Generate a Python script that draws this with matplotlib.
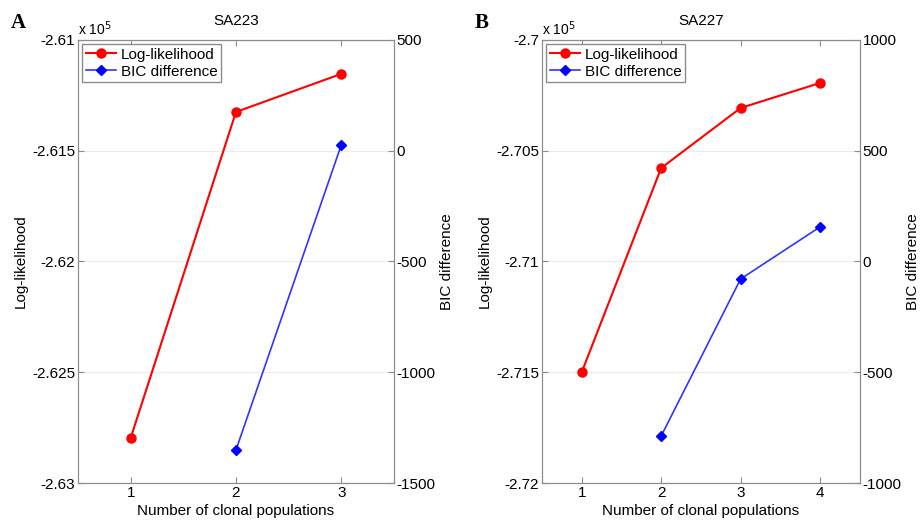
import matplotlib.pyplot as plt
from matplotlib.ticker import FuncFormatter

plt.rcParams['font.family'] = ['Liberation Sans', 'DejaVu Sans']
plt.rcParams['axes.unicode_minus'] = False

# Panel A - SA223
n_a = [1, 2, 3]
ll_a = [-262797, -261325, -261153]
bic_n_a = [2, 3]
bic_a = [-1351, 26]

# Panel B - SA227
n_b = [1, 2, 3, 4]
ll_b = [-271500, -270578, -270307, -270194]
bic_n_b = [2, 3, 4]
bic_b = [-788, -79, 156]

yt_a = [-2.63, -2.625, -2.62, -2.615, -2.61]
yt2_a = [-1500, -1000, -500, 0, 500]
yt_b = [-2.72, -2.715, -2.71, -2.705, -2.7]
yt2_b = [-1000, -500, 0, 500, 1000]

grey = '#8c8c8c'
fmt = FuncFormatter(lambda v, p: '%g' % round(v, 4))


def panel(rect, letter, title, n, ll, bn, bic, yt, yt2, nmax):
    ax = fig.add_axes(rect)
    ax2 = ax.twinx()
    for a in (ax, ax2):
        for s in a.spines.values():
            s.set_color(grey)
        a.tick_params(direction='in', colors='black', labelsize=11, length=4, pad=2)
    ax.tick_params(axis='both', color=grey, top=True)
    ax2.tick_params(axis='y', color=grey, pad=2)

    ax.set_ylim(yt[0], yt[-1])
    ax.set_yticks(yt)
    ax.yaxis.set_major_formatter(fmt)
    ax2.set_ylim(yt2[0], yt2[-1])
    ax2.set_yticks(yt2)
    ax.set_xlim(0.5, nmax + 0.5)
    ax.set_xticks(range(1, nmax + 1))
    ax.grid(axis='y', color='#ececec', lw=0.8)

    l1, = ax.plot(n, [v / 1e5 for v in ll], '-o', color='#ff0000', lw=1.5, ms=6.5)
    l2, = ax2.plot(bn, bic, '-D', color='#3333ff', lw=1.2, ms=5,
                   markerfacecolor='#0000ff', markeredgecolor='#0000ff')

    leg = ax2.legend([l1, l2], ['Log-likelihood', 'BIC difference'], loc='upper left',
                     fontsize=11, fancybox=False, framealpha=1, borderpad=0.25,
                     handlelength=2.0, handletextpad=0.3, labelspacing=0.2,
                     borderaxespad=0.25)
    leg.get_frame().set_edgecolor(grey)

    ax.set_xlabel('Number of clonal populations', fontsize=11, labelpad=3)
    ax.set_ylabel('Log-likelihood', fontsize=11, labelpad=3)
    ax2.set_ylabel('BIC difference', fontsize=11, labelpad=3)
    ax.set_title(title, fontsize=11, pad=11)
    ax.text(0.0, 1.005, r'x 10$^5$', transform=ax.transAxes, fontsize=10,
            ha='left', va='bottom')
    fig.text(rect[0] - 0.073, 0.955, letter, fontsize=15, fontweight='bold',
             family='Liberation Serif', ha='left', va='center')


fig = plt.figure(figsize=(9.21, 5.22), dpi=100)
panel([0.0847, 0.0747, 0.343, 0.8487], 'A', 'SA223', n_a, ll_a, bic_n_a, bic_a,
      yt_a, yt2_a, 3)
panel([0.5885, 0.0747, 0.345, 0.8487], 'B', 'SA227', n_b, ll_b, bic_n_b, bic_b,
      yt_b, yt2_b, 4)

fig.savefig('out.png', dpi=100)
